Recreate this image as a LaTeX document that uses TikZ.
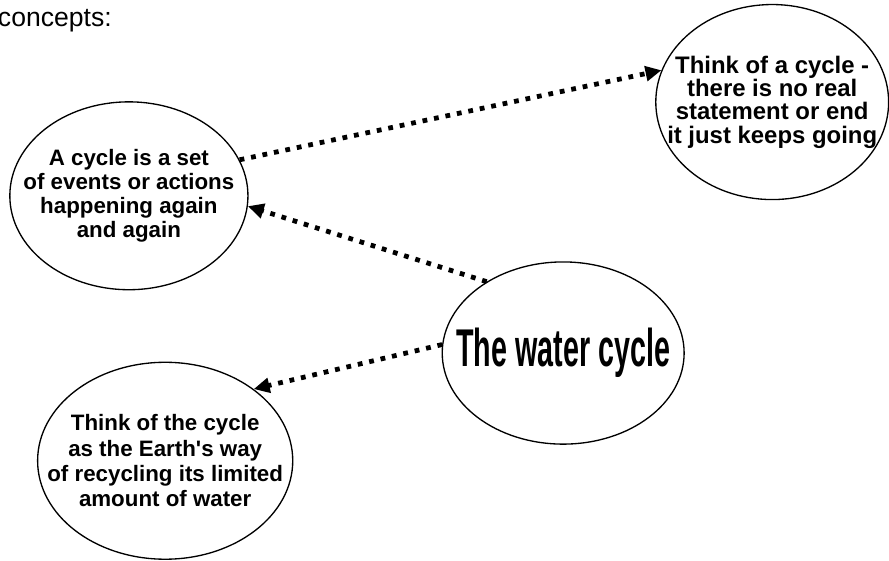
\documentclass[tikz,border=0pt]{standalone}
\usepackage{fontspec}
\setmainfont{Liberation Sans}
\newfontfamily\narrowfont{Liberation Sans}[FakeStretch=0.54]
\usetikzlibrary{shapes.geometric, arrows.meta}

\begin{document}
\begin{tikzpicture}[
    bubble/.style={draw, ellipse, line width=1pt, align=center, inner sep=-1cm},
    link/.style={line width=3.6pt, dash pattern=on 3.6pt off 5.2pt, -{Triangle[length=12pt, width=11pt]}}
]
    \useasboundingbox (0,0) rectangle (23.52,14.84);
    \node[anchor=base west, inner sep=0pt, font=\fontsize{20}{22}\selectfont] (heading) at (-0.06,14.13) {concepts:};

    \node[bubble, minimum width=6.3cm, minimum height=4.97cm, font=\bfseries\fontsize{16.8}{18}\selectfont] (meaning) at (3.41,9.66) {A cycle is a set\\of events or actions\\happening again\\and again};
    \node[bubble, minimum width=6.16cm, minimum height=5.16cm, font=\bfseries\fontsize{18}{17.5}\selectfont] (noend) at (20.43,12.14) {Think of a cycle -\\there is no real\\statement or end\\it just keeps going};
    \node[bubble, minimum width=6.4cm, minimum height=4.82cm, font=\narrowfont\bfseries\fontsize{40}{44}\selectfont] (water) at (14.9,5.5) {The water cycle};
    \node[bubble, minimum width=6.75cm, minimum height=5.21cm, font=\bfseries\fontsize{16.8}{19}\selectfont] (recycle) at (4.37,2.65) {Think of the cycle\\as the Earth\textquotesingle s way\\of recycling its limited\\amount of water};

    \draw[link] (meaning.18.6) -- (noend.164.6);
    \draw[link] (water.137) -- (meaning.-5.2);
    \draw[link] (water.176.7) -- (recycle.39);
\end{tikzpicture}
\end{document}
